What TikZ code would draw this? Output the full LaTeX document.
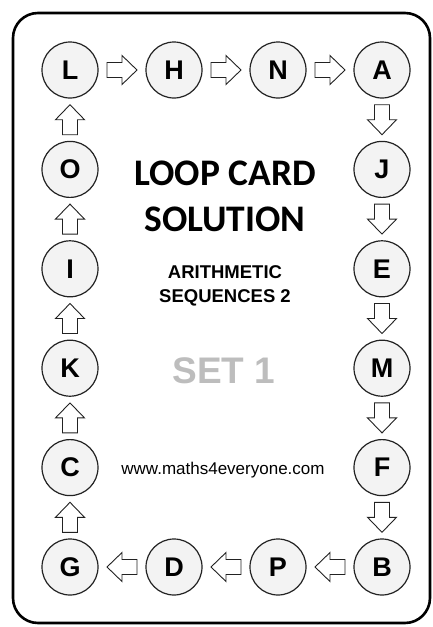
\documentclass[tikz,border=0pt]{standalone}
\usepackage{fontspec}
\setmainfont{Liberation Sans}
\newfontfamily\titlefont{Carlito}
\usetikzlibrary{calc}
\definecolor{circfill}{HTML}{F3F3F3}
\definecolor{circline}{HTML}{222222}
\definecolor{setgrey}{HTML}{BDBDBD}
\begin{document}
\begin{tikzpicture}[x=1pt,y=-1pt,
  letter/.style={circle,draw=circline,fill=circfill,line width=1.2pt,minimum size=56pt,inner sep=0pt,font=\fontsize{27}{27}\selectfont\bfseries},
  arrowline/.style={draw=circline,fill=white,line width=0.9pt,line join=miter},
  barrow/.pic={\path[arrowline] (-15,-7.5)--(0,-7.5)--(0,-14.5)--(15,0)--(0,14.5)--(0,7.5)--(-15,7.5)--cycle;}]
\useasboundingbox (0,0) rectangle (433,627);
\draw[line width=2.6pt,rounded corners=25pt] (13,13) rectangle (430,623);
% top row
\node[letter] (L) at (70,70) {L};
\node[letter] (H) at (174,70) {H};
\node[letter] (N) at (278,70) {N};
\node[letter] (A) at (382,70) {A};
% right column
\node[letter] (J) at (382,169.4) {J};
\node[letter] (E) at (382,268.8) {E};
\node[letter] (M) at (382,368.2) {M};
\node[letter] (F) at (382,467.6) {F};
\node[letter] (B) at (382,567) {B};
% bottom row
\node[letter] (P) at (278,567) {P};
\node[letter] (D) at (174,567) {D};
\node[letter] (G) at (70,567) {G};
% left column
\node[letter] (C) at (70,467.6) {C};
\node[letter] (K) at (70,368.2) {K};
\node[letter] (I) at (70,268.8) {I};
\node[letter] (O) at (70,169.4) {O};
% arrows
\pic[rotate=0] at ($(L)!0.5!(H)$) {barrow};
\pic[rotate=0] at ($(H)!0.5!(N)$) {barrow};
\pic[rotate=0] at ($(N)!0.5!(A)$) {barrow};
\pic[rotate=-90] at ($(A)!0.5!(J)$) {barrow};
\pic[rotate=-90] at ($(J)!0.5!(E)$) {barrow};
\pic[rotate=-90] at ($(E)!0.5!(M)$) {barrow};
\pic[rotate=-90] at ($(M)!0.5!(F)$) {barrow};
\pic[rotate=-90] at ($(F)!0.5!(B)$) {barrow};
\pic[rotate=180] at ($(B)!0.5!(P)$) {barrow};
\pic[rotate=180] at ($(P)!0.5!(D)$) {barrow};
\pic[rotate=180] at ($(D)!0.5!(G)$) {barrow};
\pic[rotate=90] at ($(G)!0.5!(C)$) {barrow};
\pic[rotate=90] at ($(C)!0.5!(K)$) {barrow};
\pic[rotate=90] at ($(K)!0.5!(I)$) {barrow};
\pic[rotate=90] at ($(I)!0.5!(O)$) {barrow};
\pic[rotate=90] at ($(O)!0.5!(L)$) {barrow};
% texts
\node[anchor=base,inner sep=0pt,font=\titlefont\fontsize{37.5}{37.5}\selectfont\bfseries] (t1) at (225,185) {LOOP CARD};
\node[anchor=base,inner sep=0pt,font=\titlefont\fontsize{37.5}{37.5}\selectfont\bfseries] (t2) at (225,231) {SOLUTION};
\node[anchor=base,inner sep=0pt,font=\fontsize{18.5}{18.5}\selectfont\bfseries] (t3) at (225,278) {ARITHMETIC};
\node[anchor=base,inner sep=0pt,font=\fontsize{18.5}{18.5}\selectfont\bfseries] (t4) at (225,302) {SEQUENCES 2};
\node[anchor=base,inner sep=0pt,text=setgrey,font=\fontsize{37}{37}\selectfont\bfseries] (t5) at (224,383) {SET 1};
\node[anchor=base,inner sep=0pt,font=\fontsize{17}{17}\selectfont] (t6) at (223,474) {www.maths4everyone.com};
\end{tikzpicture}
\end{document}
